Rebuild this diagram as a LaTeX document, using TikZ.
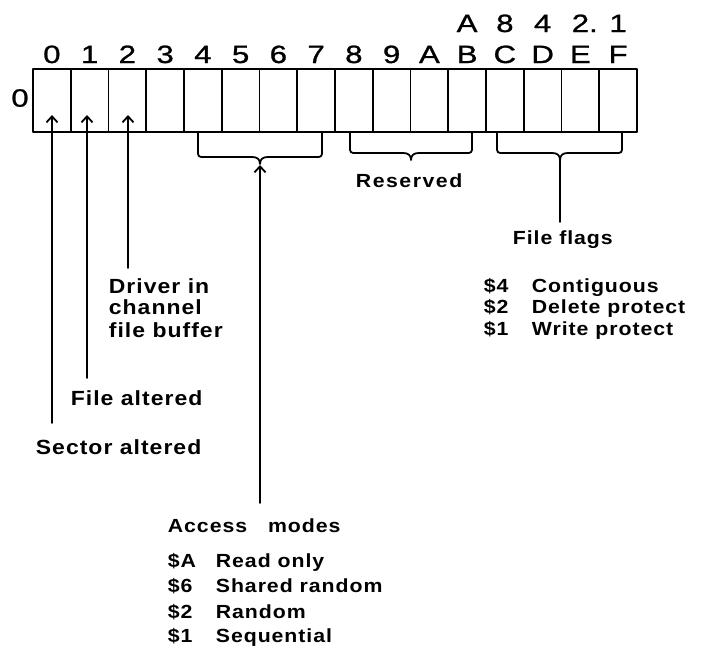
\documentclass[tikz,border=0pt]{standalone}
\usepackage{fontspec}
\setmainfont{Liberation Sans}
\newfontfamily\lblf{Liberation Sans}[LetterSpace=5,FakeStretch=1.12]
\newfontfamily\digf{Liberation Sans}[FakeStretch=1.25,FakeBold=1]
\usetikzlibrary{arrows.meta}
\begin{document}
\begin{tikzpicture}[x=1pt,y=-1pt, line width=1.8pt, line cap=round, line join=round,
  cell/.style={draw, minimum width=37.75pt, minimum height=63pt, inner sep=0pt, outer sep=0pt, anchor=north west},
  dig/.style={font=\digf\fontsize{25}{25}\selectfont, inner sep=0pt, anchor=base},
  lbl/.style={font=\lblf\bfseries\fontsize{19}{22}\selectfont, inner sep=0pt, anchor=base west},
  biglbl/.style={lbl, font=\lblf\bfseries\fontsize{20.5}{22}\selectfont},
  reslbl/.style={lbl, font=\lblf\bfseries\fontsize{19}{22}\selectfont\addfontfeatures{LetterSpace=8}},
  ptr/.style={-{Straight Barb[length=6pt,width=11pt]}},
  brc/.style={line width=1.8pt}]
\useasboundingbox (0,0) rectangle (701,648);
% cells and bit numbers
\foreach \i/\l in {0/0,1/1,2/2,3/3,4/4,5/5,6/6,7/7,8/8,9/9,10/A,11/B,12/C,13/D,14/E,15/F}{
  \node[cell] (c\i) at ({33+37.75*\i},69) {};
  \node[dig] (d\i) at ({33+37.75*(\i+0.5)},63) {\l};
}
% second row of numbers
\node[dig] (t11) at (467.1,32) {A};
\node[dig] (t12) at (504.9,32) {8};
\node[dig] (t13) at (542.6,32) {4};
\node[dig] (t14) at (580.4,32) {2\rlap{.}};
\node[dig] (t15) at (618.1,32) {1};
% row label
\node[dig, anchor=center] (r0) at (20,98) {0};
% pointers into bits 0,1,2
\coordinate (h0) at (52,115);  \coordinate (e0) at (52,423);
\coordinate (h1) at (87,115);  \coordinate (e1) at (87,378);
\coordinate (h2) at (128,115); \coordinate (e2) at (128,268);
\draw[ptr] (e0) -- (h0);
\draw[ptr] (e1) -- (h1);
\draw[ptr] (e2) -- (h2);
% braces
\draw[brc] (198,133) -- (198,150) .. controls (198,157) .. (205,157) -- (252,157)
  .. controls (257,157) and (260,159) .. (260,164)
  .. controls (260,159) and (263,157) .. (268,157) -- (315,157)
  .. controls (322,157) .. (322,150) -- (322,133);
\draw[brc] (350,133) -- (350,146) .. controls (350,153) .. (357,153) -- (403,153)
  .. controls (408,153) and (411,155) .. (411,160)
  .. controls (411,155) and (414,153) .. (419,153) -- (465,153)
  .. controls (472,153) .. (472,146) -- (472,133);
\draw[brc] (497,133) -- (497,146) .. controls (497,153) .. (504,153) -- (552,153)
  .. controls (557,153) and (560,155) .. (560,160)
  .. controls (560,155) and (563,153) .. (568,153) -- (615,153)
  .. controls (622,153) .. (622,146) -- (622,133);
\coordinate (accT) at (260,165); \coordinate (accE) at (260,503);
\draw[ptr] (accE) -- (accT);
\coordinate (ffT) at (560,160); \coordinate (ffE) at (560,222);
\draw (ffT) -- (ffE);
% labels
\node[biglbl] (drv1) at (108,293) {Driver in};
\node[biglbl] (drv2) at (108,314) {channel};
\node[biglbl] (drv3) at (108,337) {file buffer};
\node[biglbl] (falt) at (70,405) {File altered};
\node[biglbl] (salt) at (35,454) {Sector altered};
\node[reslbl] (res) at (355,187) {Reserved};
\node[lbl] (ff) at (512,244) {File flags};
\node[lbl] (f4) at (483,292) {\makebox[48pt][l]{\$4}Contiguous};
\node[lbl] (f2) at (483,313) {\makebox[48pt][l]{\$2}Delete protect};
\node[lbl] (f1) at (483,335) {\makebox[48pt][l]{\$1}Write protect};
\node[lbl] (acc) at (167,532) {Access\hspace{1.1em}modes};
\node[lbl] (aA) at (167,567) {\makebox[48pt][l]{\$A}Read only};
\node[lbl] (a6) at (167,592) {\makebox[48pt][l]{\$6}Shared random};
\node[lbl] (a2) at (167,618) {\makebox[48pt][l]{\$2}Random};
\node[lbl] (a1) at (167,642) {\makebox[48pt][l]{\$1}Sequential};
\end{tikzpicture}
\end{document}
